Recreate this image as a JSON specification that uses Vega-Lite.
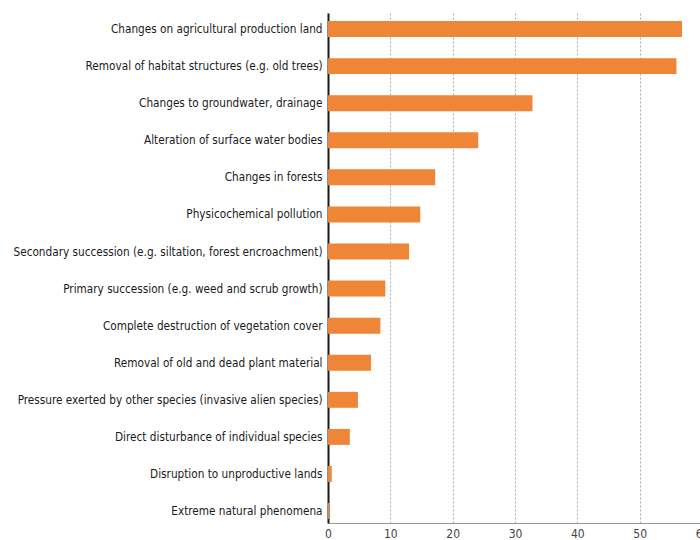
{
  "$schema": "https://vega.github.io/schema/vega-lite/v6.json",
  "autosize": {"type": "none"},
  "padding": {"left": 328, "top": 13, "right": 0, "bottom": 17},
  "width": 374,
  "height": 510,
  "background": "white",
  "data": {"values": [
    {"cause": "Changes on agricultural production land", "value": 56.8},
    {"cause": "Removal of habitat structures (e.g. old trees)", "value": 55.9},
    {"cause": "Changes to groundwater, drainage", "value": 32.8},
    {"cause": "Alteration of surface water bodies", "value": 24.1},
    {"cause": "Changes in forests", "value": 17.2},
    {"cause": "Physicochemical pollution", "value": 14.8},
    {"cause": "Secondary succession (e.g. siltation, forest encroachment)", "value": 13.0},
    {"cause": "Primary succession (e.g. weed and scrub growth)", "value": 9.2},
    {"cause": "Complete destruction of vegetation cover", "value": 8.4},
    {"cause": "Removal of old and dead plant material", "value": 6.9},
    {"cause": "Pressure exerted by other species (invasive alien species)", "value": 4.8},
    {"cause": "Direct disturbance of individual species", "value": 3.5},
    {"cause": "Disruption to unproductive lands", "value": 0.6},
    {"cause": "Extreme natural phenomena", "value": 0.2}
  ]},
  "mark": {"type": "bar", "color": "#EF8536"},
  "encoding": {
    "y": {
      "field": "cause", "type": "nominal", "sort": null,
      "scale": {"paddingInner": 0.57, "paddingOuter": 0.162, "align": 0.67},
      "axis": {
        "title": null, "ticks": false, "grid": false,
        "domainColor": "#1a1a1a", "domainWidth": 2,
        "labelFont": "'DejaVu Sans Condensed', 'Liberation Sans', sans-serif", "labelFontSize": 11.7,
        "labelColor": "#1a1a1a", "labelPadding": 6, "labelLimit": 400
      }
    },
    "x": {
      "field": "value", "type": "quantitative",
      "scale": {"domain": [0, 60], "nice": false},
      "axis": {
        "title": null, "values": [0, 10, 20, 30, 40, 50, 60],
        "ticks": false, "grid": true, "gridDash": [2, 2],
        "gridColor": "#aaaaaa", "gridWidth": 1,
        "domainColor": "#999999", "domainWidth": 1,
        "labelFont": "'DejaVu Sans Condensed', 'Liberation Sans', sans-serif", "labelFontSize": 12,
        "labelColor": "#444444", "labelPadding": 5, "labelFlush": false
      }
    }
  },
  "config": {"view": {"stroke": null}}
}
